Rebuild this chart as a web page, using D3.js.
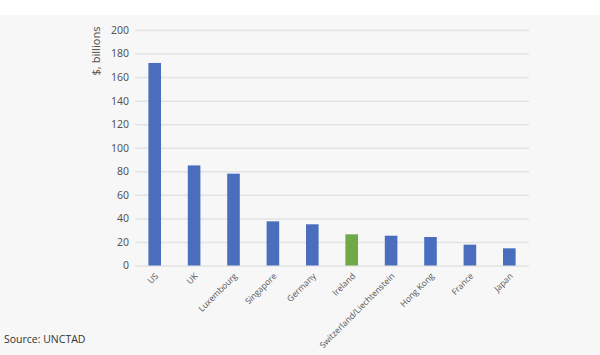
<!DOCTYPE html>
<html><head><meta charset="utf-8">
<script src="https://cdn.jsdelivr.net/npm/d3@7"></script>
<style>
html,body{margin:0;padding:0;background:#fff;}
svg{display:block;}
</style></head>
<body>
<script>
const categories = ["US","UK","Luxembourg","Singapore","Germany","Ireland","Switzerland/Liechtenstein","Hong Kong","France","Japan"];
const values = [172, 85, 78, 37.5, 35, 26.5, 25.3, 24.2, 17.7, 14.6];
const highlight = ["Ireland"];
const yTicks = [0,20,40,60,80,100,120,140,160,180,200];
const yTitle = "$, billions";
const source = "Source: UNCTAD";

(function(){
const W = 600, H = 355;
const svg = d3.select("body").append("svg").attr("width", W).attr("height", H);
svg.append("rect").attr("x",0).attr("y",15).attr("width",W).attr("height",H-15).attr("fill","#f7f7f7");

const mLeft = 135, mRight = 529, mTop = 30, mBottom = 265.5;
const x = d3.scaleBand().domain(categories).range([mLeft, mRight]).paddingInner(0.68).paddingOuter(0.34);
const y = d3.scaleLinear().domain([0,200]).range([mBottom, mTop]);

const yAxis = svg.append("g").attr("transform", `translate(${mLeft},0)`)
  .call(d3.axisLeft(y).tickValues(yTicks).tickSize(-(mRight-mLeft)).tickPadding(6));
yAxis.select(".domain").remove();
yAxis.selectAll(".tick line").attr("stroke","#e3e3e3").attr("stroke-width",1.5);
yAxis.selectAll(".tick text").attr("fill","#555").style("font-family","'Noto Sans', sans-serif").style("font-size","10.5px");

svg.append("g").selectAll("rect").data(categories).join("rect")
  .attr("x", d => x(d)).attr("width", x.bandwidth())
  .attr("y", (d,i) => y(values[i])).attr("height", (d,i) => y(0) - y(values[i]))
  .attr("fill", d => highlight.includes(d) ? "#70a84a" : "#4a6ebd");

const xAxis = svg.append("g").attr("transform", `translate(0,${mBottom})`)
  .call(d3.axisBottom(x).tickSize(0).tickPadding(0));
xAxis.select(".domain").remove();
xAxis.selectAll(".tick text")
  .attr("text-anchor","end")
  .attr("y",0).attr("dy","0.35em")
  .attr("transform","translate(2,9) rotate(-45)")
  .attr("fill","#555")
  .style("font-family","'Open Sans', sans-serif").style("font-size","8.5px");

svg.append("text").attr("transform", `translate(100,51) rotate(-90)`)
  .attr("text-anchor","middle").attr("fill","#555")
  .style("font-family","'Noto Sans', sans-serif").style("font-size","11px").text(yTitle);

svg.append("text").attr("x",4).attr("y",343).attr("fill","#333")
  .style("font-family","'Open Sans', sans-serif").style("font-size","10.5px").text(source);
})();
</script>
</body></html>
